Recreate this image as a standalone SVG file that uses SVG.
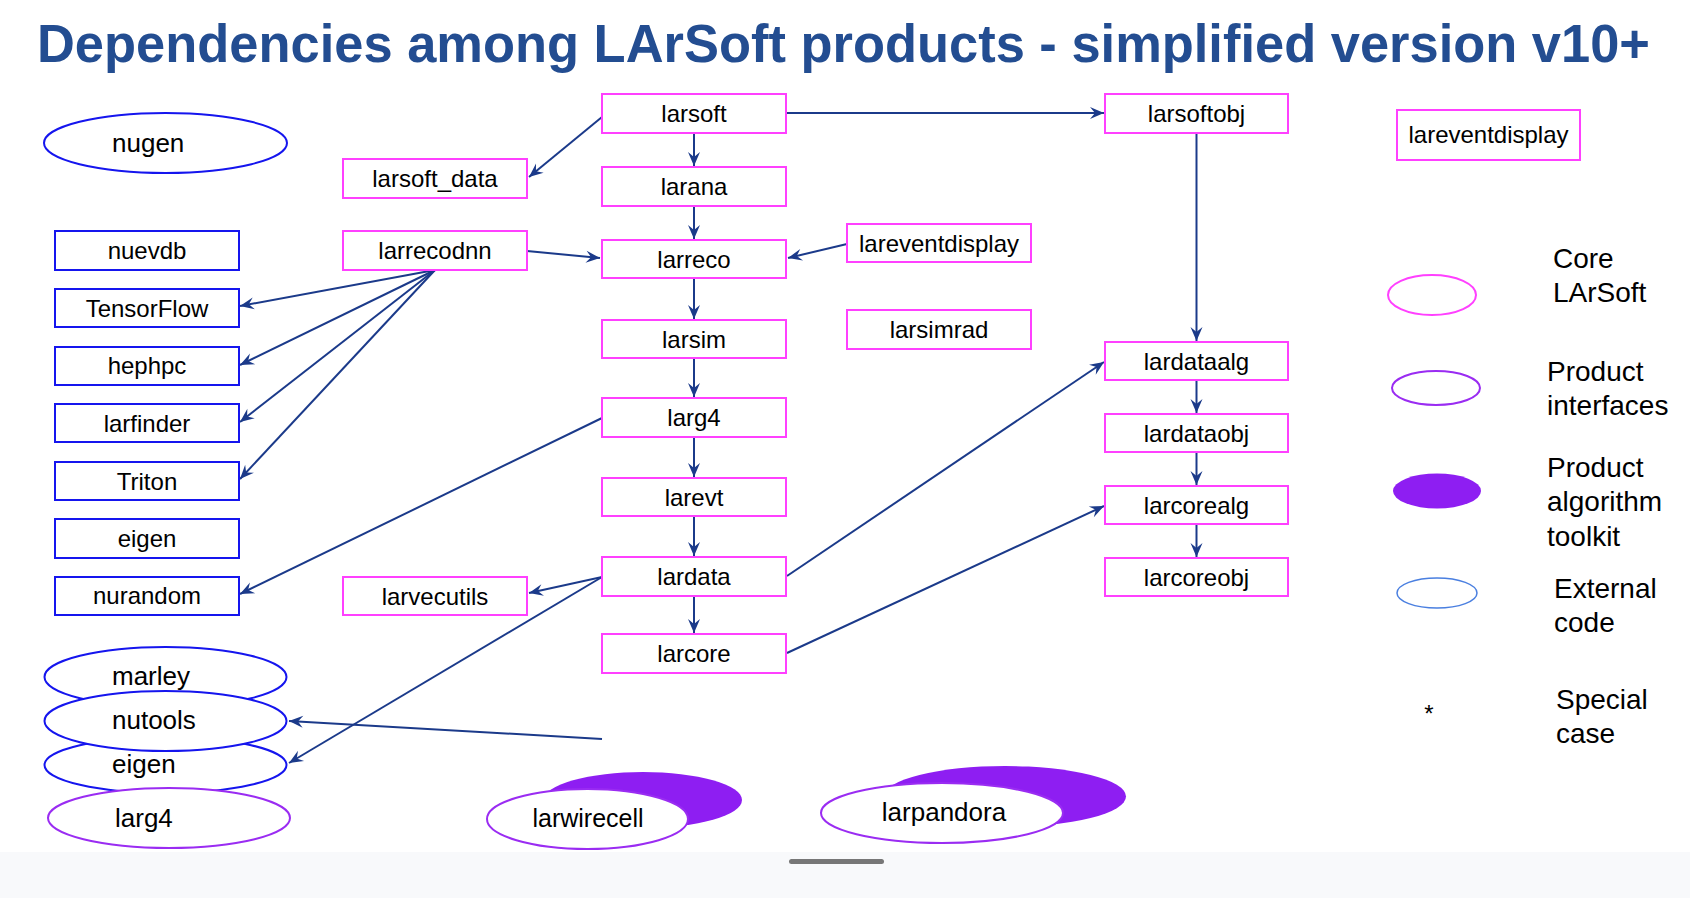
<svg xmlns="http://www.w3.org/2000/svg" width="1690" height="898" viewBox="0 0 1690 898">
<defs>
<style>
text{font-family:"Liberation Sans",Arial,sans-serif;fill:#000}
.t{font-size:24px;text-anchor:middle}
.e{font-size:26px}
.lg{font-size:28px}
.core{fill:#fff;stroke:#ff40ff;stroke-width:2}
.ext{fill:#fff;stroke:#1515ee;stroke-width:2}
.pi{fill:#fff;stroke:#9a2cf2;stroke-width:2}
.alg{fill:#8e1ef2;stroke:none}
.c{fill:none;stroke:#1b3a8a;stroke-width:2;marker-end:url(#ah)}
</style>
<marker id="ah" markerUnits="userSpaceOnUse" viewBox="-15 -7 16 14" refX="0" refY="0" markerWidth="16" markerHeight="14" orient="auto">
<path d="M0,0 L-14,-6 L-9,0 L-14,6 Z" fill="#1b3a8a"/>
</marker>
</defs>
<rect width="1690" height="898" fill="#fff"/>
<text x="37" y="62" font-size="53" font-weight="bold" style="fill:#234d91" textLength="1613" lengthAdjust="spacingAndGlyphs">Dependencies among LArSoft products - simplified version v10+</text>

<g id="connectors">
<line class="c" x1="602" y1="117" x2="529" y2="177"/>
<line class="c" x1="786" y1="113" x2="1104" y2="113"/>
<line class="c" x1="694" y1="133" x2="694" y2="166"/>
<line class="c" x1="694" y1="206" x2="694" y2="239"/>
<line class="c" x1="527" y1="251" x2="600" y2="258"/>
<line class="c" x1="847" y1="244" x2="788" y2="258"/>
<line class="c" x1="694" y1="278" x2="694" y2="319"/>
<line class="c" x1="694" y1="358" x2="694" y2="397"/>
<line class="c" x1="694" y1="437" x2="694" y2="477"/>
<line class="c" x1="694" y1="516" x2="694" y2="556"/>
<line class="c" x1="694" y1="596" x2="694" y2="633"/>
<line class="c" x1="1196.5" y1="133" x2="1196.5" y2="341"/>
<line class="c" x1="1196.5" y1="380" x2="1196.5" y2="413"/>
<line class="c" x1="1196.5" y1="452" x2="1196.5" y2="485"/>
<line class="c" x1="1196.5" y1="524" x2="1196.5" y2="557"/>
<line class="c" x1="435" y1="270" x2="240" y2="306"/>
<line class="c" x1="435" y1="270" x2="240" y2="365"/>
<line class="c" x1="435" y1="270" x2="240" y2="422"/>
<line class="c" x1="435" y1="270" x2="240" y2="479"/>
<line class="c" x1="602" y1="418" x2="240" y2="594"/>
<line class="c" x1="602" y1="577" x2="529" y2="593"/>
<line class="c" x1="602" y1="577" x2="289" y2="763"/>
<line class="c" x1="602" y1="739" x2="289" y2="721"/>
<line class="c" x1="787" y1="576" x2="1104" y2="362"/>
<line class="c" x1="787" y1="653" x2="1104" y2="506"/>
</g>

<g id="larsoft"><rect class="core" x="602" y="94" width="184" height="39"/><text class="t" x="694" y="122">larsoft</text></g>
<g id="larana"><rect class="core" x="602" y="167" width="184" height="39"/><text class="t" x="694" y="195">larana</text></g>
<g id="larreco"><rect class="core" x="602" y="240" width="184" height="38"/><text class="t" x="694" y="268">larreco</text></g>
<g id="larsim"><rect class="core" x="602" y="320" width="184" height="38"/><text class="t" x="694" y="348">larsim</text></g>
<g id="larg4"><rect class="core" x="602" y="398" width="184" height="39"/><text class="t" x="694" y="426">larg4</text></g>
<g id="larevt"><rect class="core" x="602" y="478" width="184" height="38"/><text class="t" x="694" y="506">larevt</text></g>
<g id="lardata"><rect class="core" x="602" y="557" width="184" height="39"/><text class="t" x="694" y="585">lardata</text></g>
<g id="larcore"><rect class="core" x="602" y="634" width="184" height="39"/><text class="t" x="694" y="662">larcore</text></g>
<g id="lareventdisplay-mid"><rect class="core" x="847" y="224" width="184" height="38"/><text class="t" x="939" y="252">lareventdisplay</text></g>
<g id="larsimrad"><rect class="core" x="847" y="310" width="184" height="39"/><text class="t" x="939" y="338">larsimrad</text></g>
<g id="larsoft_data"><rect class="core" x="343" y="159" width="184" height="39"/><text class="t" x="435" y="187">larsoft_data</text></g>
<g id="larrecodnn"><rect class="core" x="343" y="231" width="184" height="39"/><text class="t" x="435" y="259">larrecodnn</text></g>
<g id="larvecutils"><rect class="core" x="343" y="577" width="184" height="38"/><text class="t" x="435" y="605">larvecutils</text></g>
<g id="larsoftobj"><rect class="core" x="1105" y="94" width="183" height="39"/><text class="t" x="1196.5" y="122">larsoftobj</text></g>
<g id="lardataalg"><rect class="core" x="1105" y="342" width="183" height="38"/><text class="t" x="1196.5" y="370">lardataalg</text></g>
<g id="lardataobj"><rect class="core" x="1105" y="414" width="183" height="38"/><text class="t" x="1196.5" y="442">lardataobj</text></g>
<g id="larcorealg"><rect class="core" x="1105" y="486" width="183" height="38"/><text class="t" x="1196.5" y="514">larcorealg</text></g>
<g id="larcoreobj"><rect class="core" x="1105" y="558" width="183" height="38"/><text class="t" x="1196.5" y="586">larcoreobj</text></g>
<g id="lareventdisplay-right"><rect class="core" x="1397" y="110" width="183" height="50"/><text class="t" x="1488.5" y="143">lareventdisplay</text></g>

<g id="nuevdb"><rect class="ext" x="55" y="231" width="184" height="39"/><text class="t" x="147" y="259">nuevdb</text></g>
<g id="TensorFlow"><rect class="ext" x="55" y="289" width="184" height="38"/><text class="t" x="147" y="317">TensorFlow</text></g>
<g id="hephpc"><rect class="ext" x="55" y="347" width="184" height="38"/><text class="t" x="147" y="374">hephpc</text></g>
<g id="larfinder"><rect class="ext" x="55" y="404" width="184" height="38"/><text class="t" x="147" y="432">larfinder</text></g>
<g id="Triton"><rect class="ext" x="55" y="462" width="184" height="38"/><text class="t" x="147" y="490">Triton</text></g>
<g id="eigen-box"><rect class="ext" x="55" y="519" width="184" height="39"/><text class="t" x="147" y="547">eigen</text></g>
<g id="nurandom"><rect class="ext" x="55" y="577" width="184" height="38"/><text class="t" x="147" y="604">nurandom</text></g>

<g id="nugen"><ellipse class="ext" cx="165.5" cy="143" rx="121.5" ry="30"/><text class="e" x="112" y="152">nugen</text></g>
<g id="marley"><ellipse class="ext" cx="165.5" cy="677" rx="121" ry="30"/><text class="e" x="112" y="685">marley</text></g>
<g id="eigen-ellipse"><ellipse class="ext" cx="165.5" cy="765" rx="121" ry="28"/><text class="e" x="112" y="773">eigen</text></g>
<g id="nutools"><ellipse class="ext" cx="165.5" cy="721" rx="121" ry="30"/><text class="e" x="112" y="729">nutools</text></g>
<g id="larg4-ellipse"><ellipse class="pi" cx="169" cy="818" rx="121" ry="30"/><text class="e" x="115" y="827">larg4</text></g>

<g id="larwirecell"><ellipse class="alg" cx="643" cy="800" rx="99" ry="28"/><ellipse class="pi" cx="587.5" cy="819" rx="100.5" ry="30"/><text class="e" x="588" y="827" style="text-anchor:middle;font-size:25px">larwirecell</text></g>
<g id="larpandora"><ellipse class="alg" cx="1005" cy="796.5" rx="121" ry="30.5"/><ellipse class="pi" cx="942" cy="813" rx="121" ry="30"/><text class="e" x="944" y="821" style="text-anchor:middle">larpandora</text></g>

<g id="legend">
<ellipse class="core" cx="1432" cy="295" rx="44" ry="20"/>
<text class="lg" x="1553" y="268">Core</text>
<text class="lg" x="1553" y="302">LArSoft</text>
<ellipse class="pi" cx="1436" cy="388" rx="44" ry="17"/>
<text class="lg" x="1547" y="381">Product</text>
<text class="lg" x="1547" y="415">interfaces</text>
<ellipse class="alg" cx="1437" cy="491" rx="44" ry="17.5"/>
<text class="lg" x="1547" y="477">Product</text>
<text class="lg" x="1547" y="511">algorithm</text>
<text class="lg" x="1547" y="546">toolkit</text>
<ellipse cx="1437" cy="593" rx="40" ry="15" fill="#fff" stroke="#4a7fe0" stroke-width="1.5"/>
<text class="lg" x="1554" y="598">External</text>
<text class="lg" x="1554" y="632">code</text>
<text x="1429" y="722" font-size="24" text-anchor="middle">*</text>
<text class="lg" x="1556" y="709">Special</text>
<text class="lg" x="1556" y="743">case</text>
</g>

<rect x="0" y="852" width="1690" height="46" fill="#f8f9fb"/>
<rect x="789" y="859" width="95" height="5" rx="2.5" fill="#777"/>
</svg>
